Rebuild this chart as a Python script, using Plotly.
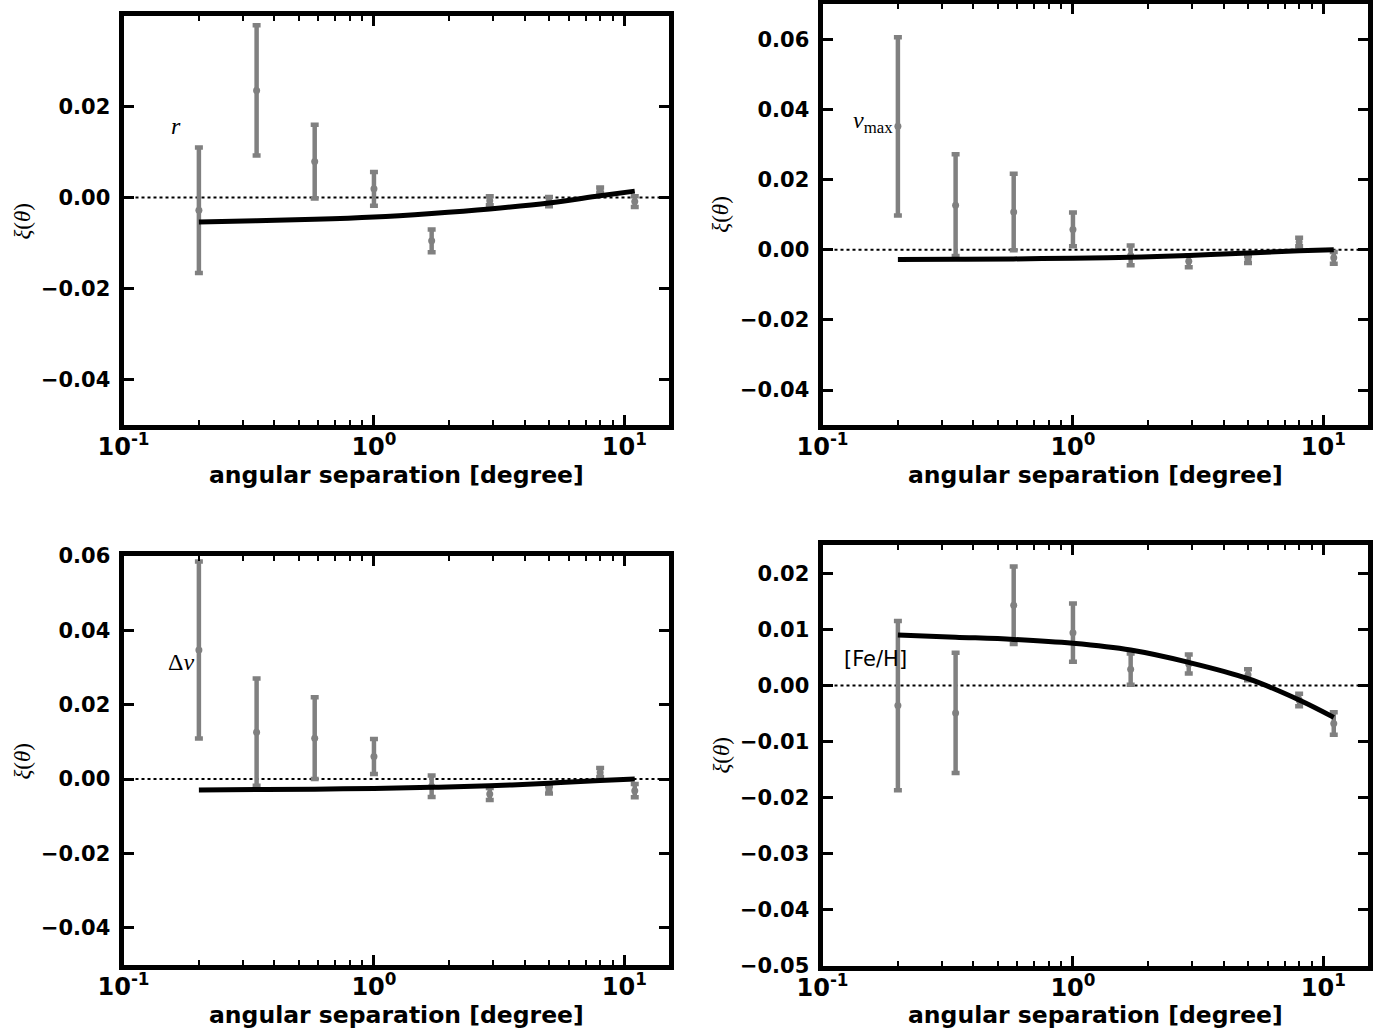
import numpy as np
import plotly.graph_objects as go

# angular separation bins [degree]
theta = [0.2, 0.34, 0.58, 1.0, 1.7, 2.9, 5.0, 8.0, 11.0]

# measured correlation and 1-sigma errors for each quantity
xi_r = [-0.0028, 0.0235, 0.0079, 0.0019, -0.0095, -0.0007, -0.0009, 0.0016, -0.0009]
err_r = [0.0138, 0.0143, 0.0081, 0.0037, 0.0025, 0.0010, 0.0010, 0.0006, 0.0012]
model_r = [-0.0054, -0.0051, -0.0048, -0.0043, -0.0035, -0.0025, -0.0012, 0.0004, 0.0014]

xi_numax = [0.0352, 0.0127, 0.0108, 0.0058, -0.0016, -0.0033, -0.0028, 0.0022, -0.0023]
err_numax = [0.0254, 0.0145, 0.0109, 0.0048, 0.0028, 0.0017, 0.0010, 0.0012, 0.0017]
model_numax = [-0.0028, -0.0027, -0.0026, -0.0024, -0.0021, -0.0016, -0.0009, -0.0003, 0.0000]

xi_dnu = [0.0347, 0.0126, 0.0110, 0.0061, -0.0019, -0.0040, -0.0029, 0.0018, -0.0031]
err_dnu = [0.0238, 0.0144, 0.0110, 0.0047, 0.0029, 0.0016, 0.0010, 0.0012, 0.0018]
model_dnu = [-0.0029, -0.0028, -0.0027, -0.0025, -0.0022, -0.0018, -0.0011, -0.0004, 0.0000]

xi_feh = [-0.0036, -0.0049, 0.0143, 0.0094, 0.0029, 0.0038, 0.0019, -0.0026, -0.0068]
err_feh = [0.0151, 0.0107, 0.0069, 0.0052, 0.0028, 0.0017, 0.0010, 0.0011, 0.0020]
model_feh = [0.0090, 0.0086, 0.0082, 0.0075, 0.0063, 0.0041, 0.0012, -0.0026, -0.0057]

labels = ["<i>r</i>", "<i>ν</i><sub>max</sub>", "Δ<i>ν</i>", "[Fe/H]"]

W, H = 1382, 1034
LW = 5  # frame line width
INSET = LW / 2  # plotly draws axis lines just outside the plot area

panels = [
    dict(xi=xi_r, err=err_r, model=model_r, xd=(121, 671), yd=(13.3, 427.7),
         yr=(-0.05, 0.0399), yt=[-0.04, -0.02, 0.0, 0.02], lab=(176, 126)),
    dict(xi=xi_numax, err=err_numax, model=model_numax, xd=(820, 1370), yd=(1.7, 427.7),
         yr=(-0.05, 0.07), yt=[-0.04, -0.02, 0.0, 0.02, 0.04, 0.06], lab=(873, 122)),
    dict(xi=xi_dnu, err=err_dnu, model=model_dnu, xd=(121, 671), yd=(553.3, 967.7),
         yr=(-0.05, 0.06), yt=[-0.04, -0.02, 0.0, 0.02, 0.04, 0.06], lab=(181, 662)),
    dict(xi=xi_feh, err=err_feh, model=model_feh, xd=(820, 1370), yd=(542.7, 968.3),
         yr=(-0.05, 0.025), yt=[-0.05, -0.04, -0.03, -0.02, -0.01, 0.0, 0.01, 0.02], lab=(875, 659)),
]

GREY = "#808080"
tickfont = dict(family="DejaVu Sans", size=21, color="black", weight="bold")
minor_vals = [m * 10.0 ** e for e in (-1, 0, 1) for m in range(2, 10) if m * 10.0 ** e < 15]


def fmt(v):
    s = f"{abs(v):.2f}"
    return ("\u2212" + s) if v < 0 else s


fig = go.Figure()
layout = dict(width=W, height=H, margin=dict(l=0, r=0, t=0, b=0, autoexpand=False),
              paper_bgcolor="white", plot_bgcolor="white", showlegend=False)
shapes = []
annotations = []

for i, p in enumerate(panels, start=1):
    xa = "x" if i == 1 else f"x{i}"
    ya = "y" if i == 1 else f"y{i}"
    xkey = "xaxis" if i == 1 else f"xaxis{i}"
    ykey = "yaxis" if i == 1 else f"yaxis{i}"

    fig.add_trace(go.Scatter(
        x=theta, y=p["xi"], mode="markers", xaxis=xa, yaxis=ya,
        marker=dict(color=GREY, size=7, symbol="circle"),
        error_y=dict(type="data", array=p["err"], visible=True,
                     color=GREY, thickness=4.5, width=4),
    ))
    fig.add_trace(go.Scatter(
        x=theta, y=p["model"], mode="lines", xaxis=xa, yaxis=ya,
        line=dict(color="black", width=5, shape="spline", smoothing=1.0),
    ))

    x0, x1 = p["xd"][0] + INSET, p["xd"][1] - INSET
    y0, y1 = p["yd"][0] + INSET, p["yd"][1] - INSET
    layout[xkey] = dict(
        type="log", range=[-1, np.log10(15)], domain=[x0 / W, x1 / W],
        anchor=ya, showgrid=False, zeroline=False, automargin=False,
        showline=True, linewidth=LW, linecolor="black", mirror="ticks",
        ticks="inside", ticklen=10, tickwidth=3, tickcolor="black",
        tickvals=[0.1, 1, 10],
        ticktext=["10<sup>-1</sup>", "10<sup>0</sup>", "10<sup>1</sup>"],
        tickfont=dict(family="DejaVu Sans", size=24, color="black", weight="bold"),
        ticklabelstandoff=-4,
        minor=dict(tickvals=minor_vals, ticks="inside", ticklen=5, tickwidth=2,
                   tickcolor="black", showgrid=False),
    )
    layout[ykey] = dict(
        range=list(p["yr"]), domain=[1 - y1 / H, 1 - y0 / H],
        anchor=xa, showgrid=False, zeroline=False, automargin=False,
        showline=True, linewidth=LW, linecolor="black", mirror="ticks",
        ticks="inside", ticklen=10, tickwidth=3, tickcolor="black",
        tickvals=p["yt"], ticktext=[fmt(v) for v in p["yt"]],
        tickfont=tickfont, ticklabelstandoff=4,
    )

    # dotted zero line across the panel
    shapes.append(dict(type="line", xref=f"{xa} domain", yref=ya, x0=0, x1=1, y0=0, y1=0,
                       line=dict(color="black", width=2, dash="dot"), layer="below"))

    xc = (p["xd"][0] + p["xd"][1]) / 2
    yb = p["yd"][1]
    annotations.append(dict(
        text="<b>angular separation [degree]</b>", xref="paper", yref="paper",
        x=xc / W, y=1 - (yb + 47) / H, xanchor="center", yanchor="middle", showarrow=False,
        font=dict(family="DejaVu Sans", size=23.5, color="black"),
    ))
    annotations.append(dict(
        text="<i>ξ</i>(<i>θ</i>)", xref="paper", yref="paper",
        x=(p["xd"][0] - 99) / W, y=1 - ((p["yd"][0] + p["yd"][1]) / 2) / H,
        xanchor="center", yanchor="middle", textangle=-90, showarrow=False,
        font=dict(family="Liberation Serif", size=23, color="black"),
    ))
    lab = labels[i - 1]
    annotations.append(dict(
        text=lab, xref="paper", yref="paper",
        x=p["lab"][0] / W, y=1 - p["lab"][1] / H, xanchor="center", yanchor="middle",
        showarrow=False,
        font=dict(family="DejaVu Sans" if lab == "[Fe/H]" else "Liberation Serif",
                  size=21 if lab == "[Fe/H]" else 24, color="black"),
    ))

layout["shapes"] = shapes
layout["annotations"] = annotations
fig.update_layout(**layout)
fig.write_html("out.html")
